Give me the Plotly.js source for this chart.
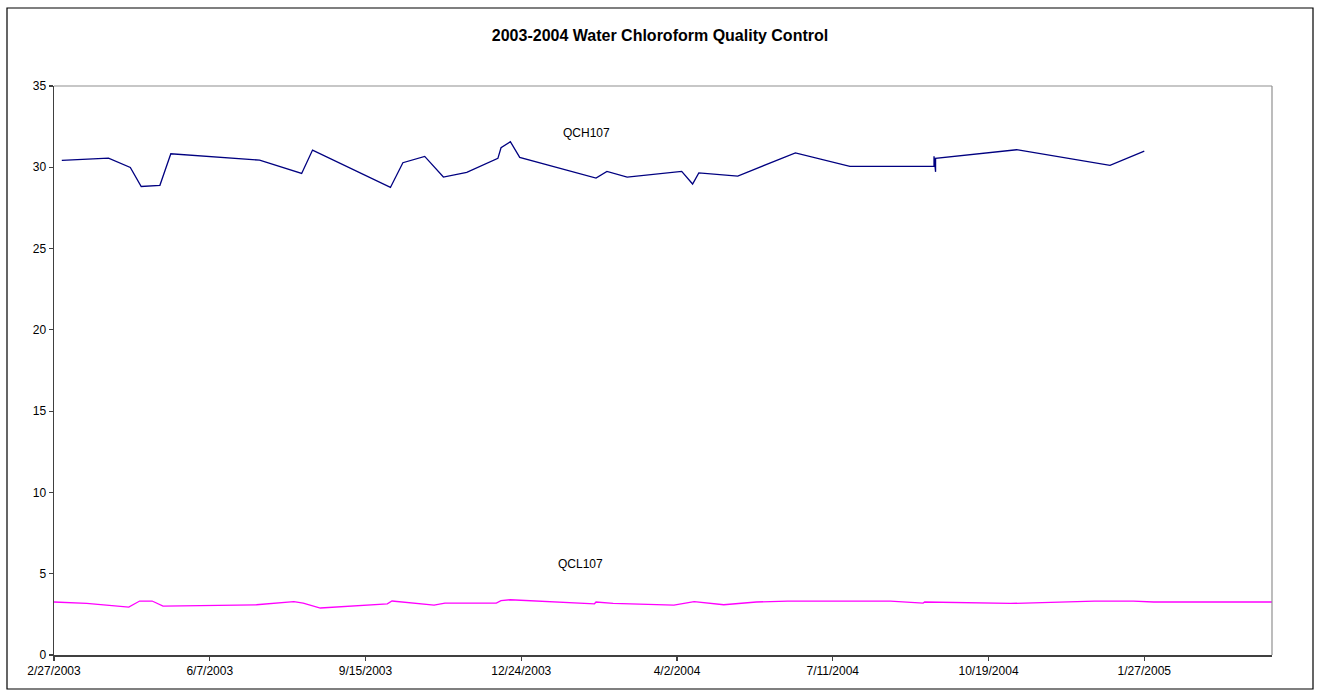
<!DOCTYPE html>
<html>
<head>
<meta charset="utf-8">
<script src="https://cdn.plot.ly/plotly-3.0.1.min.js"></script>
<style>
html,body{margin:0;padding:0;background:#fff;}
#chart{width:1320px;height:696px;}
</style>
</head>
<body>
<div id="chart"></div>
<script>
// QCH107 series
const qchDates = ["2003-03-04","2003-04-03","2003-04-17","2003-04-24","2003-05-06","2003-05-13","2003-07-09","2003-08-05","2003-08-12","2003-10-01","2003-10-09","2003-10-23","2003-11-04","2003-11-19","2003-12-09","2003-12-11","2003-12-17","2003-12-23","2004-02-10","2004-02-17","2004-03-01","2004-04-05","2004-04-12","2004-04-16","2004-05-11","2004-06-17","2004-07-22","2004-09-14","2004-09-14","2004-09-15","2004-09-15","2004-11-06","2005-01-05","2005-01-27"];
const qchValues = [30.43,30.56,29.99,28.82,28.89,30.83,30.44,29.62,31.06,28.76,30.28,30.67,29.40,29.69,30.55,31.20,31.57,30.61,29.34,29.75,29.40,29.75,28.97,29.66,29.46,30.89,30.05,30.05,30.68,29.72,30.55,31.08,30.12,31.00];

// QCL107 series
const qclDates = ["2003-02-27","2003-03-20","2003-04-16","2003-04-23","2003-05-01","2003-05-08","2003-07-07","2003-07-31","2003-08-06","2003-08-17","2003-09-29","2003-10-02","2003-10-29","2003-11-05","2003-12-08","2003-12-11","2003-12-17","2004-02-09","2004-02-10","2004-02-21","2004-03-31","2004-04-13","2004-05-02","2004-05-23","2004-06-12","2004-08-17","2004-09-07","2004-09-08","2004-11-02","2004-12-26","2005-01-20","2005-02-02","2005-04-19"];
const qclValues = [3.26,3.17,2.95,3.32,3.32,3.01,3.09,3.28,3.19,2.89,3.15,3.32,3.07,3.19,3.19,3.34,3.40,3.15,3.26,3.17,3.07,3.28,3.09,3.26,3.32,3.32,3.19,3.26,3.17,3.32,3.32,3.26,3.26];

// Axis ticks
const xTickVals = ["2003-02-27","2003-06-07","2003-09-15","2003-12-24","2004-04-02","2004-07-11","2004-10-19","2005-01-27"];
const xTickText = ["2/27/2003","6/7/2003","9/15/2003","12/24/2003","4/2/2004","7/11/2004","10/19/2004","1/27/2005"];
const xRange = ["2003-02-27","2005-04-19"];
const yTickVals = [0,5,10,15,20,25,30,35];

const titleText = "2003-2004 Water Chloroform Quality Control";
const seriesLabels = ["QCH107","QCL107"];
const labelPos = [{x:"2004-02-04", y:32.1},{x:"2004-01-31", y:5.61}];

const font = "Liberation Sans, Arial, sans-serif";

const traces = [
  {x: qchDates, y: qchValues, type:"scatter", mode:"lines", name: seriesLabels[0],
   line:{color:"#000080", width:1.3}, hoverinfo:"skip"},
  {x: qclDates, y: qclValues, type:"scatter", mode:"lines", name: seriesLabels[1],
   line:{color:"#FF00FF", width:1.3}, hoverinfo:"skip"}
];

const W = 1320, H = 696, L = 54, R = 48, T = 86, B = 41;
const pw = W - L - R, ph = H - T - B;
function px(xp){ return (xp - L)/pw; }
function py(yp){ return (H - B - yp)/ph; }

const layout = {
  width: W, height: H,
  margin: {l:L, r:R, t:T, b:B, pad:0},
  paper_bgcolor:"#ffffff", plot_bgcolor:"#ffffff",
  showlegend:false,
  font:{family:font, size:12, color:"#000"},
  title:{text:"<b>"+titleText+"</b>", font:{family:font, size:16, color:"#000"},
         xref:"container", x:0.5, xanchor:"center", yref:"container", y:1-35/H, yanchor:"middle"},
  xaxis:{type:"date", range:xRange, tickmode:"array", tickvals:xTickVals, ticktext:xTickText,
         showgrid:false, zeroline:false, showline:true, linecolor:"#404040", linewidth:1.5,
         ticks:"outside", ticklen:4, tickcolor:"#404040", tickwidth:1.2,
         tickfont:{family:font, size:12, color:"#000"}, fixedrange:true},
  yaxis:{range:[0,35], tickmode:"array", tickvals:yTickVals,
         showgrid:false, zeroline:false, showline:true, linecolor:"#404040", linewidth:1.5,
         ticks:"outside", ticklen:4, tickcolor:"#404040", tickwidth:1.2,
         tickfont:{family:font, size:12, color:"#000"}, fixedrange:true},
  shapes:[
    {type:"line", xref:"paper", yref:"paper", x0:0, x1:1, y0:1, y1:1, line:{color:"#909090", width:1.2}},
    {type:"line", xref:"paper", yref:"paper", x0:1, x1:1, y0:0, y1:1, line:{color:"#909090", width:1.2}},
    {type:"rect", xref:"paper", yref:"paper", x0:px(7), x1:px(1313), y0:py(689), y1:py(8),
     line:{color:"#000", width:1.2}, fillcolor:"rgba(0,0,0,0)"}
  ],
  annotations:[
    {x:labelPos[0].x, y:labelPos[0].y, xref:"x", yref:"y", text:seriesLabels[0], showarrow:false,
     font:{family:font, size:12, color:"#000"}},
    {x:labelPos[1].x, y:labelPos[1].y, xref:"x", yref:"y", text:seriesLabels[1], showarrow:false,
     font:{family:font, size:12, color:"#000"}}
  ]
};

Plotly.newPlot("chart", traces, layout, {displayModeBar:false, staticPlot:true});
</script>
</body>
</html>
